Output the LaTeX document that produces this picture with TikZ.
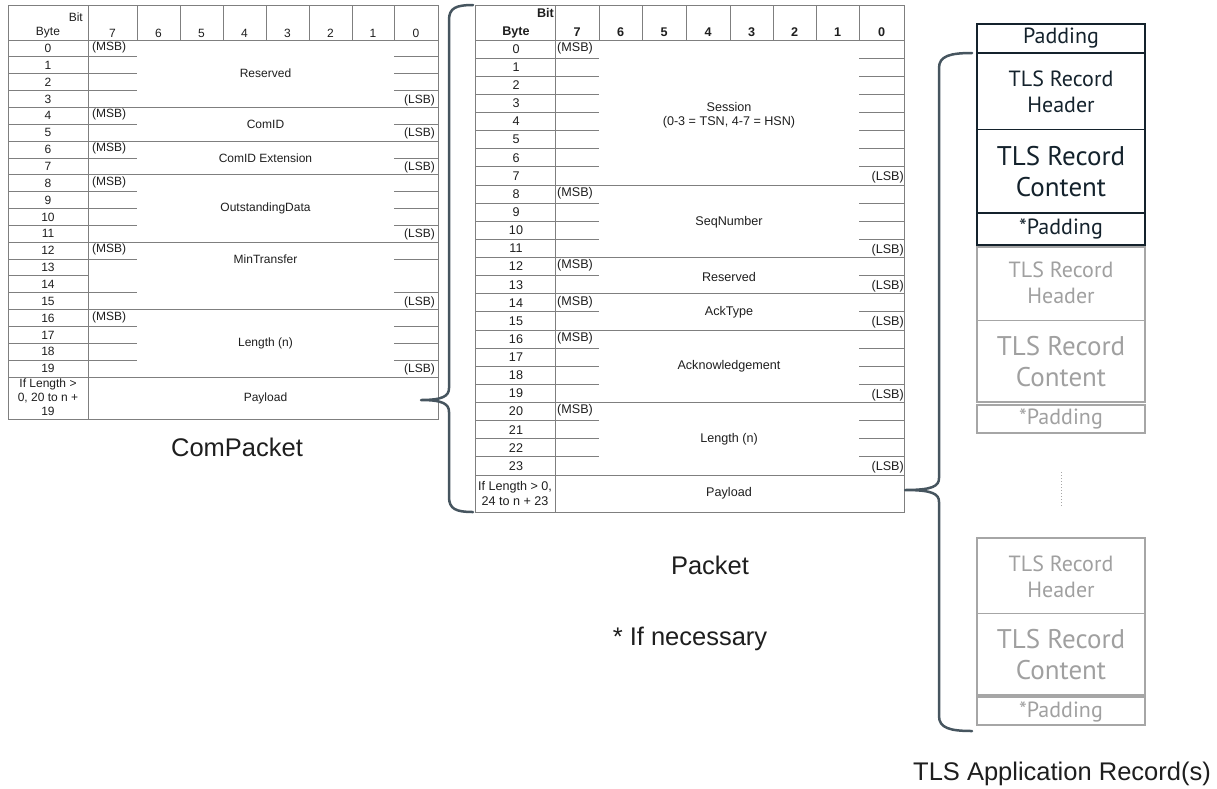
\documentclass[tikz,border=0pt]{standalone}
\usepackage{fontspec}
\setmainfont{Liberation Sans}
\newfontfamily\tlsfont{PT Sans}
\definecolor{tline}{HTML}{7F7F7F}
\definecolor{ttext}{HTML}{1E1E1E}
\definecolor{dark}{HTML}{14222C}
\definecolor{lgray}{HTML}{A6A6A6}
\definecolor{lgtext}{HTML}{A0A0A0}
\definecolor{bracec}{HTML}{46555F}
\begin{document}
\begin{tikzpicture}[x=1pt,y=-1pt,
  tl/.style={draw=tline,line width=0.9pt},
  lt/.style={inner sep=0pt,text=ttext,font=\fontsize{12}{14}\selectfont},
  mt/.style={inner sep=0pt,text=ttext,font=\fontsize{12.6}{14.5}\selectfont},
  mth/.style={inner sep=0pt,text=ttext,font=\fontsize{12.6}{14.5}\selectfont\bfseries},
  lbl/.style={inner sep=0pt,text=ttext,font=\fontsize{25.5}{28}\selectfont},
  darkbox/.style={draw=dark,line width=2.5pt},
  graybox/.style={draw=lgray,line width=2.5pt},
  darkdiv/.style={draw=dark,line width=1pt},
  graydiv/.style={draw=lgray,line width=1pt},
  tlsS/.style={inner sep=0pt,align=center,font=\tlsfont\fontsize{22}{26}\selectfont},
  tlsL/.style={inner sep=0pt,align=center,font=\tlsfont\fontsize{27}{31}\selectfont},
  brace/.style={draw=bracec,line width=2.5pt,line cap=round,line join=round}]
\useasboundingbox (0,0) rectangle (1217,788);

% ================= Left table: ComPacket =================
\draw[tl] (8,5) rectangle (438,419);
\foreach \x in {88,137,180,223,266,309,352,394} \draw[tl] (\x,5) -- (\x,40);
\draw[tl] (88,40) -- (88,419);
\draw[tl] (8,40) -- (438,40);
\foreach \i in {1,...,19} {\pgfmathsetmacro\yy{40+\i*16.85} \draw[tl] (8,\yy) -- (88,\yy);}
\foreach \i in {4,6,8,12,16,20} {\pgfmathsetmacro\yy{40+\i*16.85} \draw[tl] (8,\yy) -- (438,\yy);}
\foreach \i in {1,2,3,5,7,9,10,11,13,15,17,18,19} {\pgfmathsetmacro\yy{40+\i*16.85}
  \draw[tl] (88,\yy) -- (137,\yy); \draw[tl] (394,\yy) -- (438,\yy);}
\node[lt,anchor=east] (lbit) at (83,17) {Bit};
\node[lt] (lbyte) at (48,33) {Byte};
\foreach \x/\d in {112.5/7,158.5/6,201.5/5,244.5/4,287.5/3,330.5/2,373/1,416/0}
  \node[lt] (lh\d) at (\x,33) {\d};
\foreach \i in {0,...,19} {\pgfmathsetmacro\yy{40+(\i+0.5)*16.85} \node[lt] (lb\i) at (48,\yy) {\i};}
\foreach \i in {0,4,6,8,12,16} {\pgfmathsetmacro\yy{40+(\i+0.5)*16.85} \node[lt,anchor=west] (lmsb\i) at (92,\yy-1) {(MSB)};}
\foreach \i in {3,5,7,11,15,19} {\pgfmathsetmacro\yy{40+(\i+0.5)*16.85} \node[lt,anchor=east] (llsb\i) at (435,\yy+1) {(LSB)};}
\node[lt] (lf1) at (265.5,73.7) {Reserved};
\node[lt] (lf2) at (265.5,124.5) {ComID};
\node[lt] (lf3) at (265.5,158) {ComID Extension};
\node[lt] (lf4) at (265.5,208.5) {OutstandingData};
\node[lt] (lf5) at (265.5,259.5) {MinTransfer};
\node[lt] (lf6) at (265.5,343.5) {Length (n)};
\node[lt,align=center] (lpb) at (48,397.5) {If Length >\\0, 20 to n +\\19};
\node[lt] (lpay) at (265.5,398) {Payload};
\node[lbl] (lcap) at (237,447) {ComPacket};

% ================= Middle table: Packet =================
\draw[tl] (475,5) rectangle (904,512);
\foreach \x in {555,599,642,686,730,773,816,859} \draw[tl] (\x,5) -- (\x,40);
\draw[tl] (555,40) -- (555,512);
\draw[tl] (475,40) -- (904,40);
\foreach \i in {1,...,23} {\pgfmathsetmacro\yy{40+\i*18.125} \draw[tl] (475,\yy) -- (555,\yy);}
\foreach \i in {8,12,14,16,20,24} {\pgfmathsetmacro\yy{40+\i*18.125} \draw[tl] (475,\yy) -- (904,\yy);}
\foreach \i in {1,2,3,4,5,6,7,9,10,11,13,15,17,18,19,21,22,23} {\pgfmathsetmacro\yy{40+\i*18.125}
  \draw[tl] (555,\yy) -- (599,\yy); \draw[tl] (859,\yy) -- (904,\yy);}
\node[mth,anchor=east] (mbit) at (554,13) {Bit};
\node[mth] (mbyte) at (516,32) {Byte};
\foreach \x/\d in {577/7,620.5/6,664/5,708/4,751.5/3,794.5/2,837.5/1,881.5/0}
  \node[mth] (mh\d) at (\x,32) {\d};
\foreach \i in {0,...,23} {\pgfmathsetmacro\yy{40+(\i+0.5)*18.125} \node[mt] (mb\i) at (516,\yy) {\i};}
\foreach \i in {0,8,12,14,16,20} {\pgfmathsetmacro\yy{40+(\i+0.5)*18.125} \node[mt,anchor=west] (mmsb\i) at (557,\yy-1) {(MSB)};}
\foreach \i in {7,11,13,15,19,23} {\pgfmathsetmacro\yy{40+(\i+0.5)*18.125} \node[mt,anchor=east] (mlsb\i) at (904,\yy+1.5) {(LSB)};}
\node[mt,align=center] (mf1) at (729,115) {Session\\(0-3 = TSN, 4-7 = HSN)};
\node[mt] (mf2) at (729,222) {SeqNumber};
\node[mt] (mf3) at (729,276.5) {Reserved};
\node[mt] (mf4) at (729,312.5) {AckType};
\node[mt] (mf5) at (729,366.5) {Acknowledgement};
\node[mt] (mf6) at (729,439.5) {Length (n)};
\node[mt,align=center] (mpb) at (515,493.5) {If Length > 0,\\24 to n + 23};
\node[mt] (mpay) at (729,493.5) {Payload};
\node[lbl] (mcap) at (710,565) {Packet};
\node[lbl] (note) at (690,639) {* If necessary};

% ================= Braces =================
\coordinate (b1top) at (473,5);
\coordinate (b1tip) at (421,400);
\coordinate (b1bot) at (473,512);
\draw[brace] (b1top) .. controls (456,5) and (449,8) .. (449,20) -- (449,388)
  .. controls (449,396) and (443,400) .. (b1tip)
  .. controls (443,400) and (449,404) .. (449,412) -- (449,497)
  .. controls (449,509) and (456,512) .. (b1bot);
\coordinate (b2top) at (972,53);
\coordinate (b2tip) at (905,490);
\coordinate (b2bot) at (972,731);
\draw[brace] (b2top) .. controls (950,53) and (939,56) .. (939,68) -- (939,478)
  .. controls (939,486) and (933,490) .. (b2tip)
  .. controls (933,490) and (939,494) .. (939,502) -- (939,716)
  .. controls (939,728) and (950,731) .. (b2bot);

% ================= TLS records =================
% record 1 (dark)
\draw[darkbox] (977,24) rectangle (1145,53);
\node[tlsS,text=dark] (p0) at (1061,38) {Padding};
\draw[darkbox] (977,53) rectangle (1145,213);
\draw[darkdiv] (977,129) -- (1145,129);
\node[tlsS,text=dark] (h1) at (1061,92) {TLS Record\\Header};
\node[tlsL,text=dark] (c1) at (1061,172) {TLS Record\\Content};
\draw[darkbox] (977,213) rectangle (1145,245);
\node[tlsS,text=dark] (p1) at (1061,229) {*Padding};
% record 2 (gray)
\draw[graybox] (977,247) rectangle (1145,402);
\draw[graydiv] (977,320) -- (1145,320);
\node[tlsS,text=lgtext] (h2) at (1061,283) {TLS Record\\Header};
\node[tlsL,text=lgtext] (c2) at (1061,362) {TLS Record\\Content};
\draw[graybox] (977,405) rectangle (1145,433);
\node[tlsS,text=lgtext] (p2) at (1061,419) {*Padding};
% dots
\coordinate (d1) at (1061,472);
\coordinate (d2) at (1061,508);
\draw[lgray,line width=1pt,dotted] (d1) -- (d2);
% record 3 (gray)
\draw[graybox] (977,538) rectangle (1145,695);
\draw[graydiv] (977,613) -- (1145,613);
\node[tlsS,text=lgtext] (h3) at (1061,577) {TLS Record\\Header};
\node[tlsL,text=lgtext] (c3) at (1061,655) {TLS Record\\Content};
\draw[graybox] (977,697) rectangle (1145,725);
\node[tlsS,text=lgtext] (p3) at (1061,712) {*Padding};
\node[lbl] (tcap) at (1062,774) {TLS Application Record(s)};
\end{tikzpicture}
\end{document}
